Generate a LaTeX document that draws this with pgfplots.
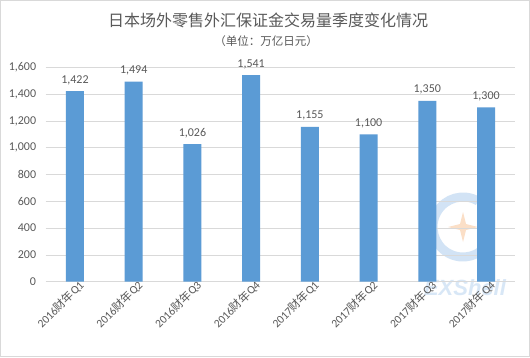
\documentclass[border=0pt]{standalone}
\usepackage{pgfplots}
\pgfplotsset{compat=1.18}
\usepackage{fontspec}
\setmainfont{Carlito}
\newfontfamily\cjk{Noto Sans CJK SC}
\newfontfamily\wmfont{Liberation Sans}
\definecolor{barblue}{HTML}{5B9BD5}
\definecolor{txt}{HTML}{595959}
\definecolor{gridc}{HTML}{D9D9D9}
\definecolor{wmblue}{HTML}{4A90D9}
\definecolor{wmorange}{HTML}{F4A460}
\begin{document}
\begin{tikzpicture}[x=1bp,y=1bp]
\path[draw=gridc, line width=1bp, fill=white] (0.5,0.5) rectangle (529.5,356.5);
\node[font=\cjk\fontsize{16bp}{18bp}\selectfont, text=txt] at (268,337) {日本场外零售外汇保证金交易量季度变化情况};
\node[font=\cjk\fontsize{11.5bp}{13bp}\selectfont, text=txt] at (266,316) {（单位：万亿日元）};
% faint watermark (behind text)
\begin{scope}[opacity=0.35]
\draw[wmblue!70, line width=9bp] (463,130) ++(60:30) arc (60:330:30);
\fill[wmorange] (463,145) -- (466,133) -- (478,130) -- (466,127) -- (463,115) -- (460,127) -- (448,130) -- (460,133) -- cycle;
\node[font=\wmfont\bfseries\itshape\fontsize{22bp}{24bp}\selectfont, text=wmblue!60, inner sep=0pt] at (465,69) {EXShell};
\end{scope}
\begin{axis}[
  at={(45.6bp,75.3bp)}, anchor=south west,
  scale only axis, width=469.8bp, height=214.4bp,
  xmin=-0.5, xmax=7.5, ymin=0, ymax=1600,
  ybar, bar width=18bp,
  axis line style={draw=none},
  major tick length=0pt,
  ytick={0,200,...,1600},
  ymajorgrids, grid style={gridc, line width=0.8bp},
  xtick={0,...,7},
  xticklabels={2016{\cjk 财年}Q1,2016{\cjk 财年}Q2,2016{\cjk 财年}Q3,2016{\cjk 财年}Q4,2017{\cjk 财年}Q1,2017{\cjk 财年}Q2,2017{\cjk 财年}Q3,2017{\cjk 财年}Q4},
  xticklabel style={rotate=45, anchor=east, font=\fontsize{11.5bp}{13bp}\selectfont, text=txt, xshift=7bp, yshift=-6bp},
  yticklabel style={font=\fontsize{12bp}{14bp}\selectfont, text=txt, xshift=-6bp},
  /pgf/number format/assume math mode=true,
  /pgf/number format/1000 sep={,},
  /pgf/number format/fixed,
  nodes near coords,
  every node near coord/.append style={font=\fontsize{12bp}{14bp}\selectfont, text=txt, yshift=3bp},
  clip=false,
]
\addplot[fill=barblue, draw=none, bar shift=0pt] coordinates {(0,1422) (1,1494) (2,1026) (3,1541) (4,1155) (5,1100) (6,1350) (7,1300)};
\end{axis}
\end{tikzpicture}
\end{document}
